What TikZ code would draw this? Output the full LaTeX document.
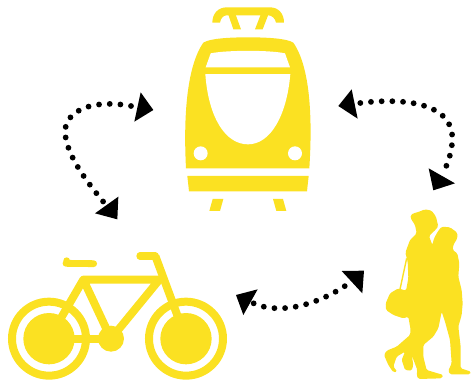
\documentclass[tikz,border=0pt]{standalone}
\definecolor{icon}{HTML}{FBE122}
\tikzset{
  iconfill/.style={fill=icon,draw=none},
  cutout/.style={fill=white,draw=none},
  barline/.style={draw=icon,line width=8pt},
  dotline/.style={draw=black,line width=5.8pt,line cap=round,dash pattern=on 0pt off 10.7pt},
  tiphead/.style={fill=black,draw=none}
}
\begin{document}
\begin{tikzpicture}[x=1pt,y=-1pt]
\useasboundingbox (0,0) rectangle (472,383);
% tram
\begin{scope}[shift={(170,0)},scale=1/3]
  \fill[iconfill] (127,68) .. controls (127,40) and (145,22) .. (170,22) -- (300,22) .. controls (325,22) and (342,40) .. (342,68) -- (318,68) .. controls (316,55) and (305,46) .. (295,46) -- (170,46) .. controls (160,46) and (152,55) .. (150,68) -- cycle;
  \fill[iconfill] (175,44) -- (190,88) -- (213,88) -- (197,44) -- cycle;
  \fill[iconfill] (272,44) -- (255,88) -- (278,88) -- (295,44) -- cycle;
  \fill[iconfill] (48,505) .. controls (40,350) and (50,200) .. (100,128) .. controls (120,115) and (180,112) .. (234,112) .. controls (290,112) and (350,115) .. (370,128) .. controls (420,200) and (428,350) .. (418,505) -- cycle;
  \fill[cutout] (107,202) -- (360,202) -- (345,160) .. controls (300,150) and (170,150) .. (122,160) -- cycle;
  \fill[cutout] (106,222) -- (361,222) .. controls (350,350) and (300,433) .. (234,433) .. controls (165,433) and (115,350) .. (106,222) -- cycle;
  \fill[cutout] (92,460) circle (21);
  \fill[cutout] (375,460) circle (21);
  \fill[iconfill] (52,528) -- (416,528) -- (411,574) -- (57,574) -- cycle;
  \fill[iconfill] (128,597) -- (160,597) -- (150,633) -- (118,633) -- cycle;
  \fill[iconfill] (309,597) -- (339,597) -- (349,633) -- (319,633) -- cycle;
\end{scope}
% bicycle
\begin{scope}[shift={(0,245)},scale=1/3]
  \coordinate (lw) at (147,281);
  \coordinate (rw) at (558,281);
  \coordinate (crank) at (333,281);
  \coordinate (seatjoin) at (250,104);
  \coordinate (headjoin) at (478,104);
  \draw[barline,line join=round] (lw) -- (seatjoin) -- (headjoin) -- (crank) -- (seatjoin);
  \draw[barline,line width=7.7pt] (lw) -- (crank);
  \draw[barline,line join=round] (rw) -- (466,33);
  \draw[barline,line width=7.3pt,line cap=round] (466,33) -- (420,33);
  \draw[barline,line width=6.8pt,line cap=round] (198,55) -- (281,56);
  \fill[iconfill] (200,47) circle (10);
  \fill[iconfill] (crank) circle (39);
  \draw[barline] (lw) circle (111);
  \draw[barline] (rw) circle (111);
  \fill[iconfill] (lw) circle (77);
  \fill[iconfill] (rw) circle (77);
\end{scope}
% couple
\begin{scope}[shift={(370,200)},scale=1/3]
  \fill[iconfill,rounded corners=1.5pt] (122,45) -- (130,40) -- (145,36) -- (165,28) -- (185,32) -- (198,50) -- (203,72) -- (205,78) -- (198,88) -- (177,108) -- (187,135) -- (192,115) -- (205,92) -- (215,80) -- (240,82) -- (262,98) -- (262,115) -- (250,135) -- (248,150) -- (262,160) -- (268,190) -- (265,230) -- (275,270) -- (278,310) -- (275,345) -- (265,380) -- (272,440) -- (272,505) -- (303,515) -- (300,523) -- (240,523) -- (235,512) -- (245,490) -- (240,420) -- (225,365) -- (215,335) -- (205,385) -- (190,410) -- (160,435) -- (160,470) -- (170,510) -- (220,525) -- (215,535) -- (145,537) -- (140,525) -- (142,510) -- (125,465) -- (130,495) -- (125,512) -- (105,510) -- (95,480) -- (105,455) -- (80,470) -- (70,500) -- (82,515) -- (70,517) -- (55,495) -- (42,465) -- (50,452) -- (80,440) -- (120,405) -- (122,390) -- (115,350) -- (100,355) -- (70,345) -- (48,330) -- (47,310) -- (60,280) -- (85,265) -- (108,272) -- (115,235) -- (113,185) -- (106,158) -- (120,120) -- (140,100) -- (135,75) -- (122,55) -- cycle;
  \draw[draw=icon,line width=1.4pt] (90,268) -- (110,175);
\end{scope}
% arrow tram - bicycle
\begin{scope}[shift={(50,85)},scale=1/3]
  \coordinate (a1) at (243,63);
  \coordinate (a2) at (168,360);
  \coordinate (a3) at (45,140);
  \draw[dotline] (a1) .. controls (130,42) and (47,75) .. (a3) .. controls (48,210) and (110,290) .. (a2);
  \fill[tiphead] (310,75) -- (272,22) -- (253,110) -- cycle;
  \fill[tiphead] (202,403) -- (205,335) -- (135,385) -- cycle;
\end{scope}
% arrow tram - couple
\begin{scope}[shift={(330,80)},scale=1/3]
  \coordinate (b1) at (91,69);
  \coordinate (b2) at (338,281);
  \coordinate (b3) at (367,175);
  \draw[dotline] (b1) .. controls (200,55) and (366,60) .. (b3) .. controls (367,210) and (355,250) .. (b2);
  \fill[tiphead] (25,78) -- (65,28) -- (83,116) -- cycle;
  \fill[tiphead] (310,331) -- (296,265) -- (375,310) -- cycle;
\end{scope}
% arrow bicycle - couple
\begin{scope}[shift={(230,260)},scale=1/3]
  \coordinate (c1) at (71,130);
  \coordinate (c2) at (348,76);
  \draw[dotline] (c1) .. controls (150,165) and (260,135) .. (c2);
  \fill[tiphead] (40,165) -- (18,105) -- (83,88) -- cycle;
  \fill[tiphead] (397,100) -- (335,33) -- (402,32) -- cycle;
\end{scope}
\end{tikzpicture}
\end{document}
